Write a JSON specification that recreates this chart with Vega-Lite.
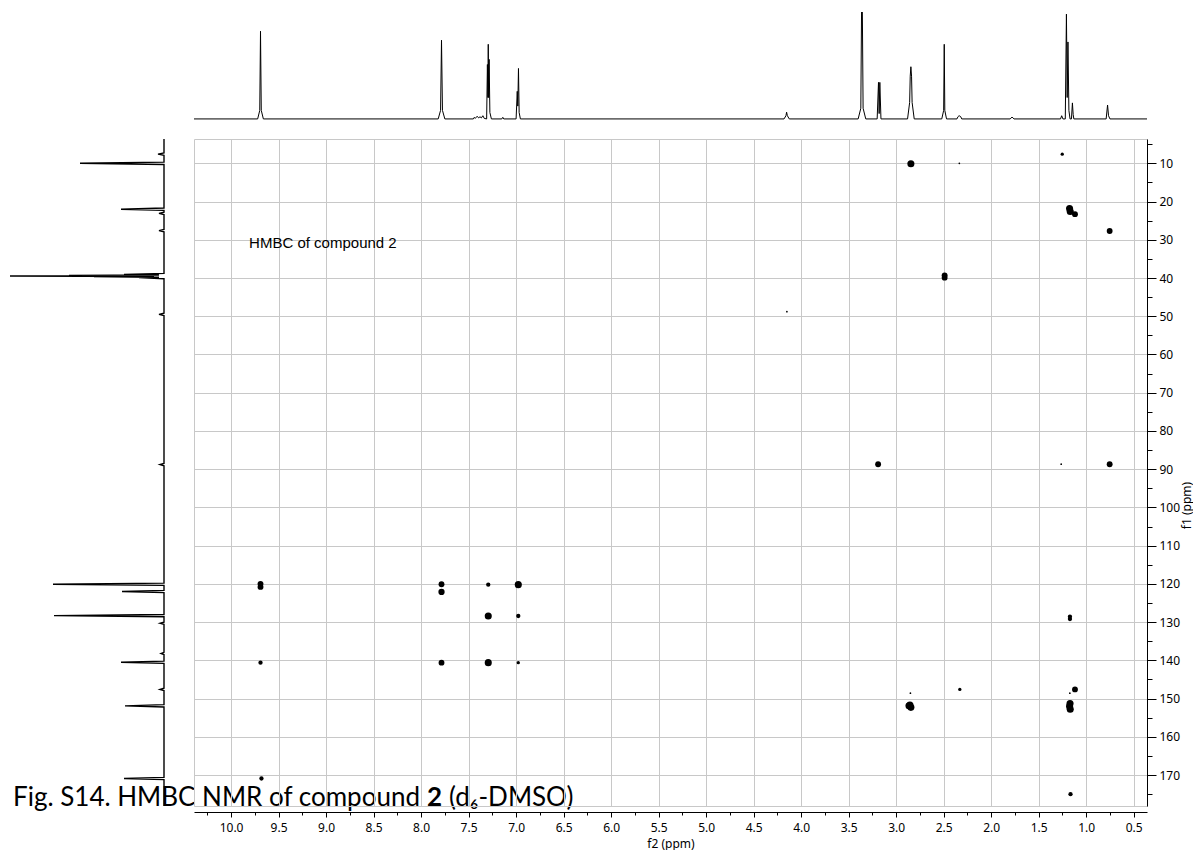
{
  "$schema": "https://vega.github.io/schema/vega-lite/v6.json",
  "padding": {"left": 10, "top": 12, "right": 0, "bottom": 0},
  "background": "white",
  "config": {"view": {"stroke": null}, "font": "Noto Sans"},
  "datasets": {
    "peaks2d": [
      {"f2": 9.69, "f1": 120.0, "intensity": 3},
      {"f2": 9.69, "f1": 120.8, "intensity": 3},
      {"f2": 9.69, "f1": 140.6, "intensity": 2},
      {"f2": 9.68, "f1": 170.9, "intensity": 2},
      {"f2": 7.785, "f1": 120.1, "intensity": 3},
      {"f2": 7.785, "f1": 122.1, "intensity": 3.3},
      {"f2": 7.785, "f1": 140.6, "intensity": 3},
      {"f2": 7.293, "f1": 120.2, "intensity": 2},
      {"f2": 7.293, "f1": 128.4, "intensity": 4},
      {"f2": 7.293, "f1": 140.6, "intensity": 4},
      {"f2": 6.977, "f1": 120.2, "intensity": 4},
      {"f2": 6.977, "f1": 128.4, "intensity": 2},
      {"f2": 6.977, "f1": 140.6, "intensity": 1.5},
      {"f2": 2.845, "f1": 10.1, "intensity": 4},
      {"f2": 2.335, "f1": 10.0, "intensity": 1},
      {"f2": 1.252, "f1": 7.6, "intensity": 1.5},
      {"f2": 1.175, "f1": 21.8, "intensity": 4},
      {"f2": 1.168, "f1": 22.6, "intensity": 4},
      {"f2": 1.118, "f1": 23.3, "intensity": 3},
      {"f2": 0.753, "f1": 27.7, "intensity": 3},
      {"f2": 2.49, "f1": 39.3, "intensity": 3},
      {"f2": 2.49, "f1": 39.9, "intensity": 3},
      {"f2": 4.15, "f1": 48.8, "intensity": 1},
      {"f2": 3.19, "f1": 88.7, "intensity": 3},
      {"f2": 1.263, "f1": 88.7, "intensity": 1},
      {"f2": 0.753, "f1": 88.7, "intensity": 3},
      {"f2": 1.171, "f1": 128.6, "intensity": 2},
      {"f2": 1.171, "f1": 129.2, "intensity": 2},
      {"f2": 2.33, "f1": 147.6, "intensity": 1.5},
      {"f2": 1.118, "f1": 147.6, "intensity": 3},
      {"f2": 1.172, "f1": 148.6, "intensity": 1},
      {"f2": 1.17, "f1": 151.3, "intensity": 4},
      {"f2": 1.175, "f1": 152.0, "intensity": 4},
      {"f2": 1.168, "f1": 152.8, "intensity": 4},
      {"f2": 2.85, "f1": 148.6, "intensity": 1},
      {"f2": 2.855, "f1": 151.7, "intensity": 4},
      {"f2": 2.845, "f1": 152.3, "intensity": 4},
      {"f2": 2.865, "f1": 151.9, "intensity": 4},
      {"f2": 1.165, "f1": 175.0, "intensity": 2}
    ],
    "proton": [
      {"ppm": 10.39, "intensity": 0},
      {"ppm": 9.72, "intensity": 0}, {"ppm": 9.698, "intensity": 8}, {"ppm": 9.69, "intensity": 82}, {"ppm": 9.682, "intensity": 8}, {"ppm": 9.66, "intensity": 0},
      {"ppm": 7.82, "intensity": 0}, {"ppm": 7.795, "intensity": 8}, {"ppm": 7.785, "intensity": 73.6}, {"ppm": 7.775, "intensity": 8}, {"ppm": 7.75, "intensity": 0},
      {"ppm": 7.45, "intensity": 0}, {"ppm": 7.44, "intensity": 1.5}, {"ppm": 7.43, "intensity": 0.5}, {"ppm": 7.41, "intensity": 2.5}, {"ppm": 7.395, "intensity": 1}, {"ppm": 7.38, "intensity": 2}, {"ppm": 7.365, "intensity": 1}, {"ppm": 7.35, "intensity": 3}, {"ppm": 7.335, "intensity": 0.5},
      {"ppm": 7.31, "intensity": 0}, {"ppm": 7.302, "intensity": 50.9}, {"ppm": 7.297, "intensity": 20}, {"ppm": 7.293, "intensity": 69.8}, {"ppm": 7.289, "intensity": 20}, {"ppm": 7.284, "intensity": 55.7}, {"ppm": 7.276, "intensity": 6}, {"ppm": 7.26, "intensity": 0},
      {"ppm": 7.15, "intensity": 0}, {"ppm": 7.14, "intensity": 1.5}, {"ppm": 7.13, "intensity": 0},
      {"ppm": 7.0, "intensity": 0}, {"ppm": 6.988, "intensity": 25.8}, {"ppm": 6.982, "intensity": 12}, {"ppm": 6.975, "intensity": 47.2}, {"ppm": 6.968, "intensity": 6}, {"ppm": 6.955, "intensity": 0},
      {"ppm": 4.18, "intensity": 0}, {"ppm": 4.16, "intensity": 3}, {"ppm": 4.153, "intensity": 6.3}, {"ppm": 4.145, "intensity": 3}, {"ppm": 4.125, "intensity": 0},
      {"ppm": 3.4, "intensity": 0}, {"ppm": 3.372, "intensity": 10}, {"ppm": 3.36, "intensity": 150}, {"ppm": 3.348, "intensity": 10}, {"ppm": 3.32, "intensity": 0},
      {"ppm": 3.2, "intensity": 0}, {"ppm": 3.186, "intensity": 34.2}, {"ppm": 3.179, "intensity": 5}, {"ppm": 3.172, "intensity": 34.2}, {"ppm": 3.16, "intensity": 0},
      {"ppm": 2.88, "intensity": 0}, {"ppm": 2.858, "intensity": 15.4}, {"ppm": 2.852, "intensity": 40}, {"ppm": 2.845, "intensity": 48.8}, {"ppm": 2.838, "intensity": 40}, {"ppm": 2.832, "intensity": 15.4}, {"ppm": 2.81, "intensity": 0},
      {"ppm": 2.52, "intensity": 0}, {"ppm": 2.5, "intensity": 8}, {"ppm": 2.494, "intensity": 69.8}, {"ppm": 2.488, "intensity": 8}, {"ppm": 2.47, "intensity": 0},
      {"ppm": 2.36, "intensity": 0}, {"ppm": 2.35, "intensity": 2}, {"ppm": 2.34, "intensity": 2.8}, {"ppm": 2.33, "intensity": 2.8}, {"ppm": 2.32, "intensity": 2}, {"ppm": 2.31, "intensity": 0},
      {"ppm": 1.8, "intensity": 0}, {"ppm": 1.78, "intensity": 1.8}, {"ppm": 1.76, "intensity": 0},
      {"ppm": 1.27, "intensity": 0}, {"ppm": 1.258, "intensity": 3}, {"ppm": 1.245, "intensity": 0},
      {"ppm": 1.22, "intensity": 0}, {"ppm": 1.208, "intensity": 98}, {"ppm": 1.2, "intensity": 20}, {"ppm": 1.192, "intensity": 72}, {"ppm": 1.182, "intensity": 8}, {"ppm": 1.17, "intensity": 0},
      {"ppm": 1.155, "intensity": 0}, {"ppm": 1.145, "intensity": 15}, {"ppm": 1.137, "intensity": 4}, {"ppm": 1.13, "intensity": 0},
      {"ppm": 0.79, "intensity": 0}, {"ppm": 0.775, "intensity": 13}, {"ppm": 0.765, "intensity": 3}, {"ppm": 0.75, "intensity": 0},
      {"ppm": 0.36, "intensity": 0}
    ],
    "carbon": [
      {"f1": 3.64, "intensity": 0},
      {"f1": 7.3, "intensity": 0}, {"f1": 7.6, "intensity": 6}, {"f1": 7.9, "intensity": 0},
      {"f1": 9.7, "intensity": 0}, {"f1": 10.0, "intensity": 84}, {"f1": 10.3, "intensity": 0},
      {"f1": 21.7, "intensity": 0}, {"f1": 22.0, "intensity": 43}, {"f1": 22.3, "intensity": 0},
      {"f1": 22.8, "intensity": 0}, {"f1": 23.1, "intensity": 5}, {"f1": 23.4, "intensity": 0},
      {"f1": 27.3, "intensity": 0}, {"f1": 27.6, "intensity": 5}, {"f1": 27.9, "intensity": 0},
      {"f1": 38.8, "intensity": 0}, {"f1": 39.1, "intensity": 40}, {"f1": 39.2, "intensity": 5}, {"f1": 39.3, "intensity": 95}, {"f1": 39.4, "intensity": 10}, {"f1": 39.5, "intensity": 170}, {"f1": 39.6, "intensity": 10}, {"f1": 39.7, "intensity": 70}, {"f1": 39.8, "intensity": 5}, {"f1": 39.9, "intensity": 25}, {"f1": 40.2, "intensity": 0},
      {"f1": 49.2, "intensity": 0}, {"f1": 49.5, "intensity": 5}, {"f1": 49.8, "intensity": 0},
      {"f1": 88.5, "intensity": 0}, {"f1": 88.8, "intensity": 4}, {"f1": 89.1, "intensity": 0},
      {"f1": 119.8, "intensity": 0}, {"f1": 120.1, "intensity": 111}, {"f1": 120.4, "intensity": 0},
      {"f1": 121.7, "intensity": 0}, {"f1": 122.0, "intensity": 42}, {"f1": 122.3, "intensity": 0},
      {"f1": 128.0, "intensity": 0}, {"f1": 128.3, "intensity": 110}, {"f1": 128.6, "intensity": 0},
      {"f1": 130.0, "intensity": 0}, {"f1": 130.3, "intensity": 4}, {"f1": 130.6, "intensity": 0},
      {"f1": 137.9, "intensity": 0}, {"f1": 138.2, "intensity": 3}, {"f1": 138.5, "intensity": 0},
      {"f1": 140.2, "intensity": 0}, {"f1": 140.5, "intensity": 43}, {"f1": 140.8, "intensity": 0},
      {"f1": 147.3, "intensity": 0}, {"f1": 147.6, "intensity": 4}, {"f1": 147.9, "intensity": 0},
      {"f1": 151.6, "intensity": 0}, {"f1": 151.9, "intensity": 39}, {"f1": 152.2, "intensity": 0},
      {"f1": 170.6, "intensity": 0}, {"f1": 170.9, "intensity": 40}, {"f1": 171.2, "intensity": 0},
      {"f1": 178.1, "intensity": 0}
    ],
    "notes2d": [{"f2": 9.81, "f1": 30.9, "text": "HMBC of compound 2"}],
    "caption": [{"f1": 178.1, "intensity": 151, "part1": "Fig. S14. HMBC NMR of compound", "part2": "2", "part3": "(d₆-DMSO)"}]
  },
  "columns": 2,
  "align": "each",
  "bounds": "flush",
  "spacing": {"row": 19, "column": 29},
  "concat": [
    {"width": 155, "height": 108, "data": {"values": []}, "mark": "text", "encoding": {}},
    {
      "width": 953, "height": 108,
      "data": {"name": "proton"},
      "mark": {"type": "line", "color": "black", "strokeWidth": 1, "clip": true},
      "encoding": {
        "x": {"field": "ppm", "type": "quantitative", "scale": {"domain": [0.36, 10.39], "reverse": true, "nice": false, "zero": false}, "axis": null},
        "y": {"field": "intensity", "type": "quantitative", "scale": {"domain": [-1, 100], "nice": false, "zero": false}, "axis": null},
        "order": {"field": "ppm", "type": "quantitative"}
      }
    },
    {
      "width": 155, "height": 667,
      "encoding": {
        "x": {"field": "intensity", "type": "quantitative", "scale": {"domain": [-1, 154], "reverse": true, "nice": false, "zero": false}, "axis": null},
        "y": {"field": "f1", "type": "quantitative", "scale": {"domain": [3.64, 178.1], "reverse": true, "nice": false, "zero": false}, "axis": null}
      },
      "layer": [
        {
          "data": {"name": "carbon"},
          "mark": {"type": "line", "color": "black", "strokeWidth": 1.4, "clip": true},
          "encoding": {"order": {"field": "f1", "type": "quantitative"}}
        },
        {
          "data": {"name": "caption"},
          "mark": {"type": "text", "align": "left", "baseline": "alphabetic", "font": "Lato", "fontSize": 26, "color": "black", "clip": false},
          "encoding": {"text": {"field": "part1"}}
        },
        {
          "data": {"name": "caption"},
          "mark": {"type": "text", "align": "left", "baseline": "alphabetic", "font": "Lato", "fontSize": 26, "fontWeight": "bold", "color": "black", "clip": false, "dx": 414},
          "encoding": {"text": {"field": "part2"}}
        },
        {
          "data": {"name": "caption"},
          "mark": {"type": "text", "align": "left", "baseline": "alphabetic", "font": "Lato", "fontSize": 26, "color": "black", "clip": false, "dx": 436},
          "encoding": {"text": {"field": "part3"}}
        }
      ]
    },
    {
      "width": 953, "height": 667,
      "view": {"stroke": "#c8c8c8", "strokeWidth": 1},
      "encoding": {
        "x": {
          "field": "f2", "type": "quantitative",
          "scale": {"domain": [0.36, 10.39], "reverse": true, "nice": false, "zero": false},
          "axis": {
            "orient": "bottom", "offset": 6,
            "values": [0.5,0.75,1,1.25,1.5,1.75,2,2.25,2.5,2.75,3,3.25,3.5,3.75,4,4.25,4.5,4.75,5,5.25,5.5,5.75,6,6.25,6.5,6.75,7,7.25,7.5,7.75,8,8.25,8.5,8.75,9,9.25,9.5,9.75,10,10.25],
            "domainColor": "#000000", "domainWidth": 1,
            "tickColor": "#000000", "tickWidth": 1,
            "tickSize": {"condition": {"test": "abs(datum.value*2 - round(datum.value*2)) < 0.01", "value": 5}, "value": 3},
            "labelExpr": "abs(datum.value*2 - round(datum.value*2)) < 0.01 ? format(datum.value, '.1f') : ''",
            "labelFont": "Noto Sans", "labelFontSize": 12, "labelColor": "#000000", "labelPadding": 5,
            "labelOverlap": false, "labelFlush": false, "labelBound": false,
            "grid": true, "gridColor": "#c8c8c8", "gridWidth": 1,
            "gridOpacity": {"condition": {"test": "abs(datum.value*2 - round(datum.value*2)) < 0.01", "value": 1}, "value": 0},
            "title": "f2 (ppm)", "titleFont": "Noto Sans", "titleFontSize": 12, "titleFontWeight": "normal", "titleColor": "#000000", "titlePadding": 5
          }
        },
        "y": {
          "field": "f1", "type": "quantitative",
          "scale": {"domain": [3.64, 178.1], "reverse": true, "nice": false, "zero": false},
          "axis": {
            "orient": "right", "offset": 0,
            "values": [5,10,15,20,25,30,35,40,45,50,55,60,65,70,75,80,85,90,95,100,105,110,115,120,125,130,135,140,145,150,155,160,165,170,175],
            "domainColor": "#000000", "domainWidth": 1,
            "tickColor": "#000000", "tickWidth": 1,
            "tickSize": {"condition": {"test": "datum.value % 10 === 0", "value": 9}, "value": 5},
            "labelExpr": "datum.value % 10 === 0 ? format(datum.value, 'd') : ''",
            "labelFont": "Noto Sans", "labelFontSize": 12, "labelColor": "#000000", "labelPadding": 3,
            "labelOverlap": false, "labelFlush": false, "labelBound": false,
            "grid": true, "gridColor": "#c8c8c8", "gridWidth": 1,
            "gridOpacity": {"condition": {"test": "datum.value % 10 === 0", "value": 1}, "value": 0},
            "title": "f1 (ppm)", "titleFont": "Noto Sans", "titleFontSize": 12, "titleFontWeight": "normal", "titleColor": "#000000",
            "titleAngle": 270, "titleX": 39, "titleY": 366, "titleAlign": "center", "titleBaseline": "middle"
          }
        }
      },
      "layer": [
        {
          "data": {"name": "peaks2d"},
          "mark": {"type": "point", "filled": true, "shape": "circle", "color": "#000000", "opacity": 1, "strokeWidth": 0},
          "encoding": {
            "size": {"field": "intensity", "type": "quantitative", "scale": {"domain": [1, 4], "range": [3, 50]}, "legend": null}
          }
        },
        {
          "data": {"name": "notes2d"},
          "mark": {"type": "text", "align": "left", "baseline": "middle", "font": "Liberation Sans", "fontSize": 15, "color": "#000000"},
          "encoding": {"text": {"field": "text"}}
        }
      ]
    }
  ]
}
